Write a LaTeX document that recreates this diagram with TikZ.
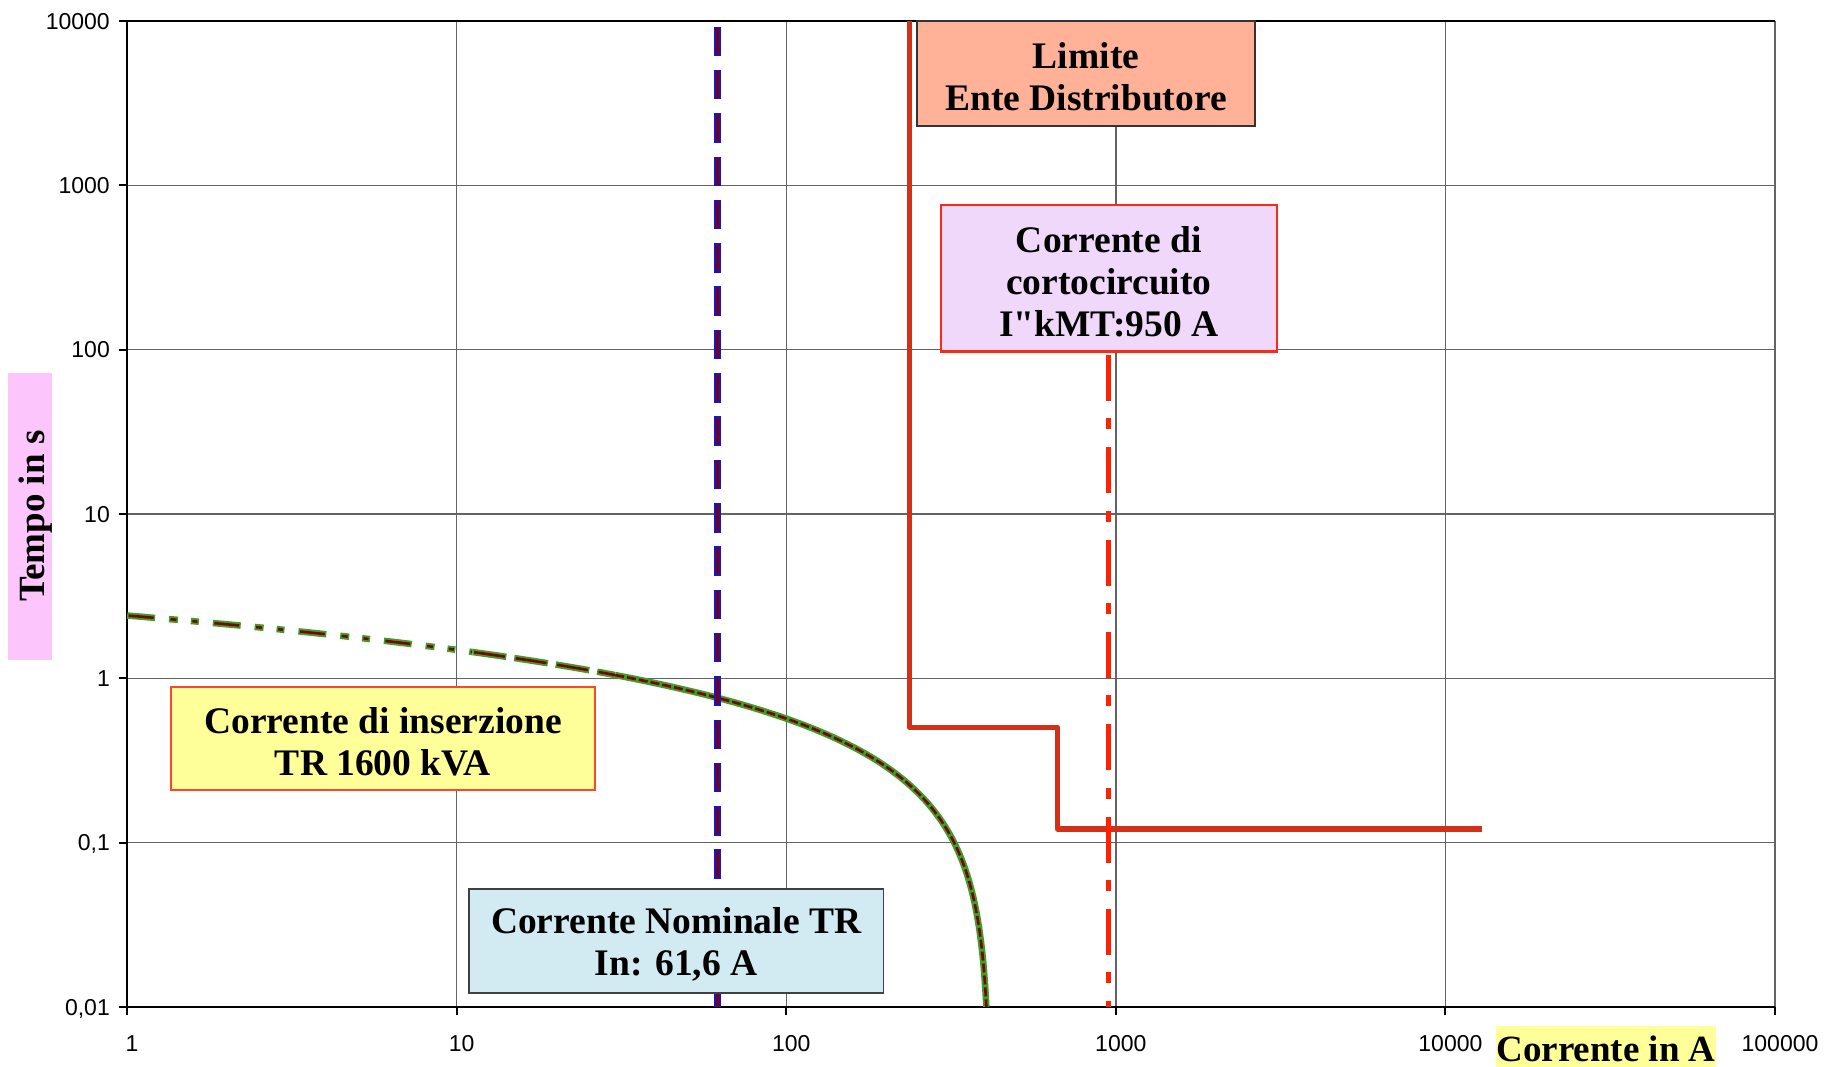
\documentclass[tikz,border=0pt]{standalone}
\usepackage{fontspec}
\setmainfont{Liberation Serif}
\newfontfamily\rawserif[Ligatures=TeXOff]{Liberation Serif}
\newfontfamily\ticksans{Liberation Sans}

\definecolor{gridgray}{RGB}{100,100,100}
\definecolor{limitefill}{RGB}{255,178,152}
\definecolor{cortofill}{RGB}{240,216,250}
\definecolor{cortoedge}{RGB}{255,40,20}
\definecolor{inserzfill}{RGB}{255,255,153}
\definecolor{inserzedge}{RGB}{255,70,40}
\definecolor{nomfill}{RGB}{210,234,242}
\definecolor{tempofill}{RGB}{252,198,252}
\definecolor{steplinecol}{RGB}{210,48,24}
\definecolor{shortcol}{RGB}{255,34,0}
\definecolor{nomblue}{RGB}{20,20,210}
\definecolor{darkredcore}{RGB}{128,0,0}
\definecolor{inrushgreen}{RGB}{60,160,40}

% strut that lowers a multi-line label inside its box
\newcommand{\toplift}{\rule{0pt}{33pt}}

\begin{document}
\begin{tikzpicture}[x=1pt,y=-1pt,
  gridline/.style={draw=gridgray,line width=1.4pt},
  axisline/.style={draw=black,line width=2pt},
  ticklabel/.style={font=\ticksans\fontsize{23}{27}\selectfont,inner sep=0pt},
  boxlabel/.style={font=\fontsize{37.5}{42}\selectfont\bfseries,align=center,inner sep=0pt},
  limitline/.style={draw=steplinecol,line width=5.5pt,line join=round},
  shortline/.style={draw=shortcol,line width=5.5pt,dash pattern=on 46pt off 17.3pt on 11pt off 18pt},
  nomouter/.style={draw=nomblue,line width=6.5pt,dash pattern=on 29.5pt off 13.8pt},
  nominner/.style={draw=darkredcore,line width=2.6pt,dash pattern=on 26.5pt off 16.8pt},
  inrushouter/.style={draw=inrushgreen,line width=6.5pt,line join=round},
  inrushinner/.style={draw=darkredcore,line width=2.6pt,line join=round}]
\useasboundingbox (0,0) rectangle (1825,1067);

% grid: one line per decade
\foreach \k in {1,...,5}
  \draw[gridline] ({127+329.6*\k},21) -- ({127+329.6*\k},1007);
\foreach \k in {1,...,6}
  \draw[gridline] (127,{1007-164.33*\k}) -- (1775,{1007-164.33*\k});
\draw[axisline,line width=1.8pt] (127,21) -- (1775,21);

% axes and ticks
\draw[axisline] (127,21) -- (127,1007) -- (1775,1007);
\foreach \k in {0,...,6}
  \draw[axisline] (119,{1007-164.33*\k}) -- (127,{1007-164.33*\k});
\foreach \k in {0,...,5}
  \draw[axisline] ({127+329.6*\k},1007) -- ({127+329.6*\k},1015);

% tick labels
\foreach \k/\lab in {0/{0,01},1/{0,1},2/1,3/10,4/100,5/1000,6/10000}
  \node[ticklabel,anchor=base east] (ylab\k) at (110,{1007-164.33*\k+8.3}) {\lab};
\foreach \k/\lab in {0/1,1/10,2/100,3/1000,4/10000,5/100000}
  \node[ticklabel,anchor=base] (xlab\k) at ({132+329.6*\k},1051.7) {\lab};

% inrush curve: t = 0.4 ln(415/I), plotted against v = log10(t)
% low currents: dash-dot-dot
\draw[inrushouter,dash pattern=on 28pt off 14pt on 9pt off 13pt on 8pt off 14pt]
  plot[domain=0.3822:0.16,samples=40,variable=\v]
  ({127+329.6*(2.61805-1.085736*pow(10,\v))},{1007-164.33*(\v+2)});
\draw[inrushinner,dash pattern=on 25pt off 17pt on 6pt off 16pt on 5pt off 17pt,dash phase=84.5pt]
  plot[domain=0.3822:0.16,samples=40,variable=\v]
  ({127+329.6*(2.61805-1.085736*pow(10,\v))},{1007-164.33*(\v+2)});
% middle currents: long dashes
\draw[inrushouter,dash pattern=on 34pt off 8pt]
  plot[domain=0.16:0.02,samples=30,variable=\v]
  ({127+329.6*(2.61805-1.085736*pow(10,\v))},{1007-164.33*(\v+2)});
\draw[inrushinner,dash pattern=on 31pt off 11pt,dash phase=40.5pt]
  plot[domain=0.16:0.02,samples=30,variable=\v]
  ({127+329.6*(2.61805-1.085736*pow(10,\v))},{1007-164.33*(\v+2)});
% high currents: continuous
\draw[inrushouter]
  plot[domain=0.02:-2,samples=160,variable=\v]
  ({127+329.6*(2.61805-1.085736*pow(10,\v))},{1007-164.33*(\v+2)});
\draw[inrushinner,dash pattern=on 9pt off 3pt]
  plot[domain=0.02:-2,samples=160,variable=\v]
  ({127+329.6*(2.61805-1.085736*pow(10,\v))},{1007-164.33*(\v+2)});

% nominal current 61,6 A
\coordinate (nomtop) at (717.7,26.7);
\coordinate (nombot) at (717.7,1007);
\draw[nomouter] (nomtop) -- (nombot);
\draw[nominner] ([yshift=-1.5pt]nomtop) -- (nombot);

% distributor limit
\coordinate (lim1) at (909.3,21);
\coordinate (lim2) at (909.3,727.5);
\coordinate (lim3) at (1057.7,727.5);
\coordinate (lim4) at (1057.7,829);
\coordinate (lim5) at (1481.7,829);
\draw[limitline] (lim1) -- (lim2) -- (lim3) -- (lim4) -- (lim5);

% short-circuit current 950 A
\coordinate (sctop) at (1108.7,355);
\coordinate (scbot) at (1108.7,1007);
\draw[shortline] (sctop) -- (scbot);

% text boxes
\node[boxlabel,fill=limitefill,draw=black!80,line width=1.2pt,
      minimum width=338pt,minimum height=105pt] (limite) at (1086,73.5)
  {\toplift Limite\\Ente Distributore};
\node[boxlabel,fill=cortofill,draw=cortoedge,line width=2.2pt,
      minimum width=336pt,minimum height=146.5pt] (corto) at (1108.8,278.2)
  {\toplift Corrente di\\cortocircuito\\I{\rawserif\bfseries"}kMT:950 A};
\node[boxlabel,fill=inserzfill,draw=inserzedge,line width=1.5pt,
      minimum width=424pt,minimum height=103pt] (inserz) at (383,738.5)
  {\toplift Corrente di inserzione\\TR 1600 kVA};
\node[boxlabel,fill=nomfill,draw=black!75,line width=1.2pt,
      minimum width=414.5pt,minimum height=104pt] (nominale) at (676.2,941)
  {\toplift Corrente Nominale TR\\In: 61,6 A};

% axis titles
\node[font=\fontsize{37}{42}\selectfont\bfseries,fill=tempofill,rotate=90,anchor=base,
      text height=36pt,text depth=8pt,inner ysep=0pt,inner xsep=0pt,
      minimum width=287.5pt] (ytitle) at (44,516.25) {Tempo in s};
\node[font=\fontsize{37}{42}\selectfont\bfseries,fill=inserzfill,anchor=base,
      text height=36.2pt,text depth=5.3pt,inner ysep=0pt,inner xsep=0pt,
      minimum width=220pt] (xtitle) at (1606,1061.7) {Corrente in A};
\end{tikzpicture}
\end{document}
